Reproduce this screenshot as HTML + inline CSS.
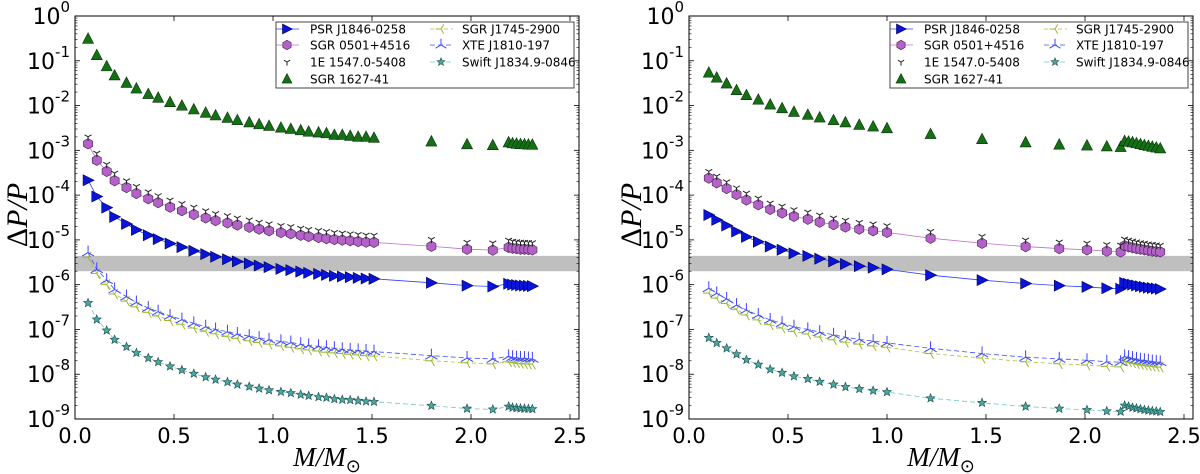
<!DOCTYPE html>
<html><head><meta charset="utf-8">
<style>
html,body{margin:0;padding:0;background:#fff;}
svg{display:block;font-family:"DejaVu Sans","Liberation Sans",sans-serif;}
</style></head>
<body>
<svg id="chart" width="1200" height="474" viewBox="0 0 1200 474" xmlns="http://www.w3.org/2000/svg"></svg>
<script>
// ---------- data ----------
const massLeft = [0.066,0.11,0.16,0.20,0.26,0.31,0.37,0.42,0.48,0.54,0.60,0.66,0.71,0.77,0.82,0.88,0.93,0.98,1.04,1.09,1.14,1.18,1.23,1.27,1.31,1.35,1.39,1.43,1.47,1.51,1.80,1.98,2.11,2.19,2.21,2.23,2.25,2.27,2.29,2.31];
const psrLeft = [2.15e-4,9.3e-5,5.26e-5,3.26e-5,2.27e-5,1.67e-5,1.27e-5,1.04e-5,8.3e-6,6.9e-6,5.7e-6,4.8e-6,4.2e-6,3.7e-6,3.3e-6,2.96e-6,2.67e-6,2.46e-6,2.25e-6,2.11e-6,1.96e-6,1.83e-6,1.74e-6,1.65e-6,1.57e-6,1.52e-6,1.47e-6,1.42e-6,1.37e-6,1.35e-6,1.1e-6,9.5e-7,9.1e-7,1.05e-6,1.0e-6,9.8e-7,9.6e-7,9.5e-7,9.4e-7,9.3e-7];
const sgr0501Left = [1.4e-3,6.0e-4,3.4e-4,2.1e-4,1.48e-4,1.09e-4,8.3e-5,6.8e-5,5.4e-5,4.5e-5,3.7e-5,3.1e-5,2.7e-5,2.4e-5,2.15e-5,1.92e-5,1.74e-5,1.6e-5,1.46e-5,1.37e-5,1.27e-5,1.19e-5,1.13e-5,1.07e-5,1.02e-5,9.9e-6,9.6e-6,9.2e-6,8.9e-6,8.8e-6,7.2e-6,6.2e-6,5.9e-6,6.8e-6,6.5e-6,6.4e-6,6.2e-6,6.2e-6,6.1e-6,6.0e-6];
const e1547Left = [2.0e-3,8.7e-4,4.9e-4,3.1e-4,2.1e-4,1.57e-4,1.19e-4,9.8e-5,7.8e-5,6.5e-5,5.4e-5,4.5e-5,3.9e-5,3.5e-5,3.1e-5,2.8e-5,2.5e-5,2.3e-5,2.1e-5,2.0e-5,1.84e-5,1.72e-5,1.64e-5,1.55e-5,1.48e-5,1.43e-5,1.38e-5,1.33e-5,1.29e-5,1.27e-5,1.03e-5,8.9e-6,8.6e-6,9.9e-6,9.4e-6,9.2e-6,9.0e-6,8.9e-6,8.8e-6,8.7e-6];
const sgr1627Left = [0.31,0.133,0.075,0.047,0.032,0.024,0.018,0.0149,0.0119,0.0099,0.0082,0.0069,0.006,0.0053,0.0047,0.0042,0.0038,0.0035,0.0032,0.003,0.0028,0.0026,0.0025,0.0024,0.0022,0.0022,0.0021,0.002,0.002,0.0019,0.00157,0.00136,0.0013,0.0015,0.00143,0.0014,0.00137,0.00136,0.00134,0.00133];
const j1745Left = [4.1e-6,1.77e-6,1.0e-6,6.2e-7,4.3e-7,3.2e-7,2.4e-7,2.0e-7,1.58e-7,1.31e-7,1.08e-7,9.1e-8,8.0e-8,7.0e-8,6.3e-8,5.6e-8,5.1e-8,4.7e-8,4.3e-8,4.0e-8,3.7e-8,3.5e-8,3.3e-8,3.1e-8,3.0e-8,2.9e-8,2.8e-8,2.7e-8,2.6e-8,2.56e-8,2.0e-8,1.8e-8,1.7e-8,1.9e-8,1.85e-8,1.8e-8,1.75e-8,1.72e-8,1.7e-8,1.68e-8];
const xteLeft = [5.2e-6,2.2e-6,1.26e-6,7.8e-7,5.4e-7,4.0e-7,3.0e-7,2.5e-7,2.0e-7,1.66e-7,1.37e-7,1.15e-7,1.0e-7,8.9e-8,7.9e-8,7.1e-8,6.4e-8,5.9e-8,5.4e-8,5.1e-8,4.7e-8,4.4e-8,4.2e-8,4.0e-8,3.8e-8,3.6e-8,3.5e-8,3.4e-8,3.3e-8,3.2e-8,2.6e-8,2.3e-8,2.2e-8,2.5e-8,2.4e-8,2.35e-8,2.3e-8,2.3e-8,2.25e-8,2.2e-8];
const swiftLeft = [3.9e-7,1.67e-7,9.5e-8,5.9e-8,4.1e-8,3.0e-8,2.3e-8,1.87e-8,1.5e-8,1.24e-8,1.03e-8,8.6e-9,7.6e-9,6.7e-9,5.9e-9,5.3e-9,4.8e-9,4.4e-9,4.05e-9,3.8e-9,3.5e-9,3.3e-9,3.1e-9,3.0e-9,2.8e-9,2.7e-9,2.65e-9,2.56e-9,2.47e-9,2.43e-9,1.98e-9,1.71e-9,1.64e-9,1.9e-9,1.8e-9,1.76e-9,1.73e-9,1.71e-9,1.69e-9,1.67e-9];

const massRight = [0.1,0.14,0.19,0.24,0.29,0.35,0.41,0.47,0.53,0.6,0.66,0.73,0.79,0.86,0.93,1.0,1.22,1.48,1.7,1.87,2.01,2.11,2.18,2.2,2.22,2.24,2.26,2.28,2.3,2.32,2.34,2.36,2.38];
const psrRight = [3.6e-5,2.8e-5,2.1e-5,1.54e-5,1.17e-5,9.1e-6,7.1e-6,6.0e-6,5.0e-6,4.4e-6,3.8e-6,3.3e-6,2.9e-6,2.6e-6,2.4e-6,2.2e-6,1.63e-6,1.26e-6,1.06e-6,9.5e-7,8.9e-7,8.3e-7,8.1e-7,1.1e-6,1.05e-6,1.0e-6,9.6e-7,9.2e-7,8.9e-7,8.6e-7,8.4e-7,8.2e-7,8.0e-7];
const sgr0501Right = [2.4e-4,1.88e-4,1.41e-4,1.03e-4,7.8e-5,6.1e-5,4.8e-5,4.0e-5,3.35e-5,2.9e-5,2.5e-5,2.2e-5,1.94e-5,1.74e-5,1.6e-5,1.47e-5,1.09e-5,8.4e-6,7.1e-6,6.4e-6,6.0e-6,5.6e-6,5.4e-6,7.4e-6,7.0e-6,6.7e-6,6.4e-6,6.2e-6,6.0e-6,5.8e-6,5.6e-6,5.5e-6,5.4e-6];
const e1547Right = [3.4e-4,2.66e-4,2.0e-4,1.46e-4,1.11e-4,8.6e-5,6.7e-5,5.7e-5,4.75e-5,4.2e-5,3.6e-5,3.1e-5,2.76e-5,2.47e-5,2.28e-5,2.09e-5,1.55e-5,1.2e-5,1.0e-5,9.0e-6,8.5e-6,7.9e-6,7.7e-6,1.05e-5,1.0e-5,9.5e-6,9.1e-6,8.7e-6,8.5e-6,8.2e-6,8.0e-6,7.8e-6,7.6e-6];
const sgr1627Right = [0.054,0.042,0.031,0.022,0.017,0.0135,0.0105,0.0087,0.0072,0.0062,0.0054,0.0047,0.0042,0.0037,0.0034,0.0031,0.0023,0.00177,0.0015,0.00134,0.00128,0.00122,0.00118,0.0016,0.00155,0.0015,0.00143,0.00137,0.0013,0.00125,0.0012,0.00115,0.0011];
const j1745Right = [6.5e-7,5.0e-7,3.8e-7,2.8e-7,2.1e-7,1.64e-7,1.28e-7,1.08e-7,9.0e-8,7.9e-8,6.8e-8,5.9e-8,5.2e-8,4.7e-8,4.3e-8,4.0e-8,2.9e-8,2.3e-8,1.9e-8,1.71e-8,1.6e-8,1.5e-8,1.46e-8,2.0e-8,1.9e-8,1.8e-8,1.73e-8,1.66e-8,1.6e-8,1.55e-8,1.51e-8,1.48e-8,1.44e-8];
const xteRight = [8.3e-7,6.4e-7,4.8e-7,3.5e-7,2.7e-7,2.1e-7,1.63e-7,1.38e-7,1.15e-7,1.0e-7,8.7e-8,7.6e-8,6.7e-8,6.0e-8,5.5e-8,5.0e-8,3.8e-8,2.9e-8,2.4e-8,2.2e-8,2.05e-8,1.9e-8,1.86e-8,2.5e-8,2.4e-8,2.3e-8,2.2e-8,2.1e-8,2.05e-8,2.0e-8,1.93e-8,1.89e-8,1.84e-8];
const swiftRight = [6.5e-8,5.0e-8,3.8e-8,2.8e-8,2.1e-8,1.64e-8,1.28e-8,1.08e-8,9.0e-9,7.9e-9,6.8e-9,5.9e-9,5.2e-9,4.7e-9,4.3e-9,4.0e-9,2.9e-9,2.3e-9,1.9e-9,1.71e-9,1.6e-9,1.5e-9,1.46e-9,2.0e-9,1.9e-9,1.8e-9,1.73e-9,1.66e-9,1.6e-9,1.55e-9,1.51e-9,1.48e-9,1.44e-9];

const seriesNames = ["PSR J1846-0258","SGR 0501+4516","1E 1547.0-5408","SGR 1627-41","SGR J1745-2900","XTE J1810-197","Swift J1834.9-0846"];
const xTickLabels = ["0.0","0.5","1.0","1.5","2.0","2.5"];
const xTickValues = [0,0.5,1,1.5,2,2.5];
const yTickExponents = [0,-1,-2,-3,-4,-5,-6,-7,-8,-9];
const bandLow = 2e-6, bandHigh = 4.4e-6;

// ---------- drawing ----------
const NS = "http://www.w3.org/2000/svg";
const svg = document.getElementById("chart");
function mk(tag, attrs, parent) {
  const e = document.createElementNS(NS, tag);
  for (const k in attrs) e.setAttribute(k, attrs[k]);
  (parent || svg).appendChild(e);
  return e;
}
const styles = [
  {kind:"tri-right", fill:"#0a14d8", stroke:"#000050", line:"#3040ff", dash:""},
  {kind:"hex", fill:"#b462c8", stroke:"#402050", line:"#c070d0", dash:""},
  {kind:"tri-down-y", fill:"none", stroke:"#222", line:"none", dash:""},
  {kind:"tri-up", fill:"#157015", stroke:"#0a300a", line:"none", dash:""},
  {kind:"tri-left-y", fill:"none", stroke:"#9ab832", line:"#a8c040", dash:"4,3"},
  {kind:"tri-up-y", fill:"none", stroke:"#3a44ff", line:"#4050ff", dash:"5,3"},
  {kind:"star", fill:"#4aa8a0", stroke:"#1a4a48", line:"#70c8c0", dash:"5,3"}
];
function marker(g, kind, cx, cy, st, s) {
  s = s || 1;
  let p;
  if (kind === "tri-right") {
    p = mk("polygon", {points:`${cx-5*s},${cy-5.5*s} ${cx+6*s},${cy} ${cx-5*s},${cy+5.5*s}`, fill:st.fill, stroke:st.stroke, "stroke-width":0.6}, g);
  } else if (kind === "tri-up") {
    p = mk("polygon", {points:`${cx-5.5*s},${cy+4.5*s} ${cx+5.5*s},${cy+4.5*s} ${cx},${cy-6*s}`, fill:st.fill, stroke:st.stroke, "stroke-width":0.6}, g);
  } else if (kind === "hex") {
    let pts = [];
    for (let i = 0; i < 6; i++) { const a = Math.PI/6 + i*Math.PI/3; pts.push((cx+5.3*s*Math.cos(a)).toFixed(2)+","+(cy+5.3*s*Math.sin(a)).toFixed(2)); }
    p = mk("polygon", {points:pts.join(" "), fill:st.fill, stroke:st.stroke, "stroke-width":0.6}, g);
  } else if (kind === "star") {
    let pts = [];
    for (let i = 0; i < 10; i++) { const r = (i%2?2:4.6)*s, a = -Math.PI/2 + i*Math.PI/5; pts.push((cx+r*Math.cos(a)).toFixed(2)+","+(cy+r*Math.sin(a)).toFixed(2)); }
    p = mk("polygon", {points:pts.join(" "), fill:st.fill, stroke:st.stroke, "stroke-width":0.6}, g);
  } else {
    let angs, r;
    if (kind === "tri-down-y") { angs = [90, 210, 330]; r = 4; }
    else if (kind === "tri-up-y") { angs = [270, 30, 150]; r = 7; }
    else { angs = [180, 300, 60]; r = 6; }
    let d = "";
    angs.forEach(a => { const t = a*Math.PI/180; d += `M${cx},${cy}L${(cx+r*s*Math.cos(t)).toFixed(2)},${(cy+r*s*Math.sin(t)).toFixed(2)}`; });
    p = mk("path", {d:d, fill:"none", stroke:st.stroke, "stroke-width":1}, g);
  }
  return p;
}

function drawPanel(name, x0, mass, series) {
  const y0 = 16, y1 = 419, pxPerUnit = 198, x1 = x0 + 504;
  const decade = (y1 - y0) / 9;
  const X = v => x0 + v * pxPerUnit;
  const Y = v => y0 - Math.log10(v) * decade;
  const g = mk("g", {});
  
  
  const clipId = "clip-" + name;
  const cp = mk("clipPath", {id: clipId}, g);
  mk("rect", {x:x0, y:y0, width:x1-x0, height:y1-y0}, cp);

  const band = mk("rect", {x:x0, y:Y(bandHigh), width:x1-x0, height:Y(bandLow)-Y(bandHigh), fill:"#bfbfbf"}, g);
  
  

  const plot = mk("g", {"clip-path":`url(#${clipId})`}, g);
  series.forEach((vals, si) => {
    const st = styles[si];
    if (st.line === "none") return;
    const d = vals.map((v, i) => (i ? "L" : "M") + X(mass[i]).toFixed(2) + "," + Y(v).toFixed(2)).join("");
    const ln = mk("path", {d:d, fill:"none", stroke:st.line, "stroke-width":0.8, "stroke-dasharray":st.dash}, plot);
    
    
  });
  const order = [6,4,5,3,1,2,0];
  order.forEach(si => {
    const st = styles[si];
    const mg = mk("g", {}, plot);
    
    
    series[si].forEach((v, i) => {
      const m = marker(mg, st.kind, X(mass[i]), Y(v), st);
      
      
    });
  });

  const frame = mk("rect", {x:x0, y:y0, width:x1-x0, height:y1-y0, fill:"none", stroke:"#000", "stroke-width":1}, g);
  
  

  xTickValues.forEach((v, i) => {
    const x = X(v);
    mk("line", {x1:x, y1:y1, x2:x, y2:y1-5, stroke:"#000", "stroke-width":0.8}, g);
    mk("line", {x1:x, y1:y0, x2:x, y2:y0+5, stroke:"#000", "stroke-width":0.8}, g);
    const t = mk("text", {x:x, y:443, "text-anchor":"middle", "font-size":"21px", fill:"#000"}, g);
    t.textContent = xTickLabels[i];
    
    
  });
  yTickExponents.forEach(e => {
    const y = y0 - e * decade;
    mk("line", {x1:x0, y1:y, x2:x0+5, y2:y, stroke:"#000", "stroke-width":0.8}, g);
    mk("line", {x1:x1, y1:y, x2:x1-5, y2:y, stroke:"#000", "stroke-width":0.8}, g);
    if (e > -9) {
      for (let k = 2; k < 10; k++) {
        const ym = Y(k * Math.pow(10, e - 1));
        mk("line", {x1:x0, y1:ym, x2:x0+2.5, y2:ym, stroke:"#000", "stroke-width":0.6}, g);
        mk("line", {x1:x1, y1:ym, x2:x1-2.5, y2:ym, stroke:"#000", "stroke-width":0.6}, g);
      }
    }
    const t = mk("text", {x:x0-5, y:y+8, "text-anchor":"end", "font-size":"22px", fill:"#000"}, g);
    
    
    const a = mk("tspan", {}, t); a.textContent = "10";
    const b = mk("tspan", {dy:-12, "font-size":"15px"}, t); b.textContent = String(e);
  });

  const xt = mk("text", {x:(x0+x1)/2, y:466, "text-anchor":"middle", "font-size":"27px", "font-style":"italic", "font-family":"Liberation Serif, serif", fill:"#000"}, g);
  
  
  xt.innerHTML = 'M/M<tspan dy="6" font-size="18px" font-style="normal">⊙</tspan>';
  const yt = mk("text", {x:0, y:0, "text-anchor":"middle", "font-size":"30px", "font-style":"italic", "font-family":"Liberation Serif, serif", fill:"#000", transform:`translate(${x0-48},215) rotate(-90)`}, g);
  
  
  yt.innerHTML = '<tspan font-style="normal">Δ</tspan>P/P';

  const lg = mk("g", {}, g);
  
  
  const lx = x0 + 201;
  mk("rect", {x:lx, y:22, width:298, height:66, fill:"#fff", stroke:"#444", "stroke-width":1}, lg);
  const rowsY = [29, 45, 62, 79];
  seriesNames.forEach((nm, si) => {
    const col = si < 4 ? 0 : 1, row = si < 4 ? si : si - 4;
    const mx = lx + (col ? 165 : 11), ty = rowsY[row];
    const st = styles[si];
    const eg = mk("g", {}, lg);
    
    
    if (st.line !== "none") mk("line", {x1:mx-11, y1:ty, x2:mx+12, y2:ty, stroke:st.line, "stroke-width":0.8, "stroke-dasharray":st.dash}, eg);
    marker(eg, st.kind, mx, ty, st, 0.9);
    const t = mk("text", {x:lx + (col ? 186 : 34), y:ty+4.5, "font-size":"12px", fill:"#000"}, eg);
    t.textContent = nm;
  });
}

drawPanel("left", 75, massLeft, [psrLeft, sgr0501Left, e1547Left, sgr1627Left, j1745Left, xteLeft, swiftLeft]);
drawPanel("right", 689, massRight, [psrRight, sgr0501Right, e1547Right, sgr1627Right, j1745Right, xteRight, swiftRight]);
</script>
</body></html>
